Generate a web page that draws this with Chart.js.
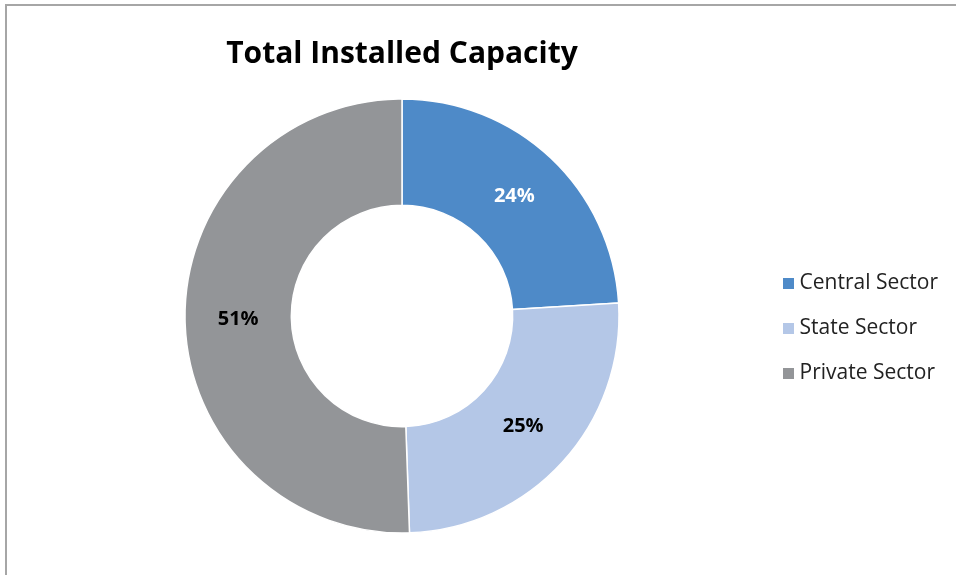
<!DOCTYPE html>
<html>
<head>
<meta charset="utf-8">
<script src="https://cdn.jsdelivr.net/npm/chart.js@4/dist/chart.umd.min.js"></script>
<style>
  html, body { margin: 0; padding: 0; background: #fff; overflow: hidden; }
  .frame { position: absolute; left: 5px; top: 4px; width: 1000px; height: 600px;
           border-top: 2px solid #a6a6a6; border-left: 2px solid #a6a6a6; }
  #capacityChart { display: block; }
</style>
</head>
<body>
<div class="frame">
  <canvas id="capacityChart" width="949" height="569"></canvas>
</div>
<script>
const sectors = ['Central Sector', 'State Sector', 'Private Sector'];
const shares = [24.05, 25.4, 50.55];
const sectorColors = ['#4e8ac8', '#b4c7e7', '#939598'];
const labelColors = ['#ffffff', '#000000', '#000000'];

(function(){
  const FONT = '"Open Sans", Lato, sans-serif';

  // percentage labels in the middle of each ring segment
  const sliceLabels = {
    id: 'sliceLabels',
    afterDatasetsDraw(chart) {
      const ctx = chart.ctx;
      const meta = chart.getDatasetMeta(0);
      const total = shares.reduce((a, b) => a + b, 0);
      ctx.save();
      ctx.font = 'bold 20px ' + FONT;
      ctx.textAlign = 'center';
      ctx.textBaseline = 'middle';
      meta.data.forEach((arc, i) => {
        const p = arc.tooltipPosition();
        ctx.fillStyle = labelColors[i];
        ctx.fillText(Math.round(shares[i] / total * 100) + '%', p.x, p.y);
      });
      ctx.restore();
    }
  };

  new Chart(document.getElementById('capacityChart'), {
    type: 'doughnut',
    data: {
      labels: sectors,
      datasets: [{
        data: shares,
        backgroundColor: sectorColors,
        borderColor: '#ffffff',
        borderWidth: 1.5,
        radius: 217,
        cutout: '51%',
        clip: false
      }]
    },
    options: {
      responsive: false,
      animation: false,
      layout: { padding: { left: 33, right: 12, top: 0, bottom: 22 } },
      plugins: {
        tooltip: { enabled: false },
        title: {
          display: true,
          fullSize: false,
          text: 'Total Installed Capacity',
          color: '#000',
          font: { family: FONT, size: 30, weight: 'bold', lineHeight: 1.2 },
          padding: { top: 30, bottom: 7 }
        },
        legend: {
          position: 'right',
          fullSize: false,
          maxWidth: 180,
          title: { display: true, text: '', font: { size: 25, lineHeight: 1 }, padding: 0 },
          labels: {
            usePointStyle: true,
            pointStyle: 'rect',
            boxWidth: 1,
            boxHeight: 11,
            padding: 24,
            color: '#222',
            font: { family: FONT, size: 21 },
            generateLabels(chart) {
              const items = Chart.overrides.doughnut.plugins.legend.labels.generateLabels(chart);
              items.forEach(it => { it.lineWidth = 0; });
              return items;
            }
          }
        }
      }
    },
    plugins: [sliceLabels]
  });
})();
</script>
</body>
</html>
